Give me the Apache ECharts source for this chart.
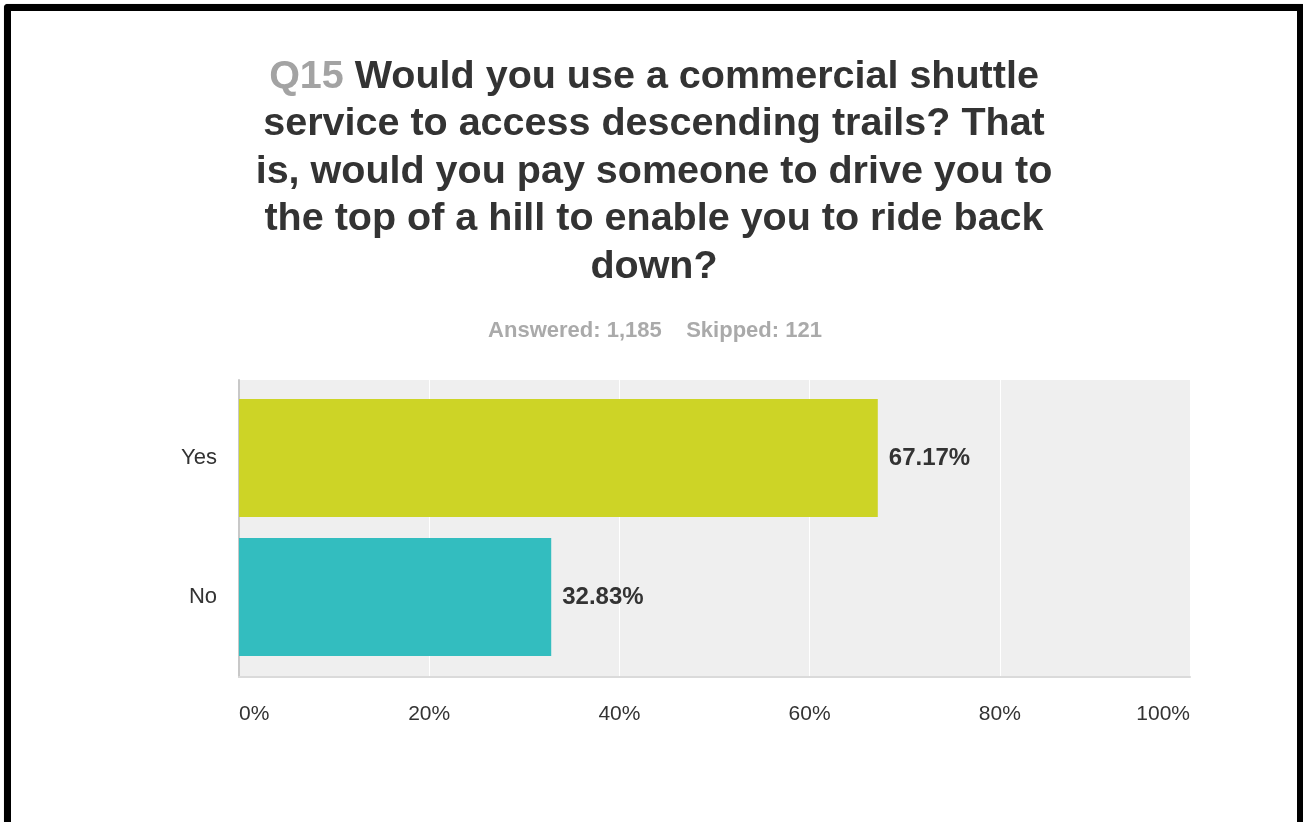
<!DOCTYPE html>
<html>
<head>
<meta charset="utf-8">
<script src="https://cdn.jsdelivr.net/npm/echarts@6/dist/echarts.min.js"></script>
<style>
  html, body { margin: 0; padding: 0; background: #ffffff; }
  #frame {
    position: absolute; left: 4px; top: 4px; width: 1286px; height: 830px;
    border: 7px solid #000; border-bottom: none; border-radius: 4px 2px 0 0;
    box-shadow: 0 0 1px #999;
  }
  #chart { position: absolute; left: 0; top: 0; width: 1303px; height: 822px; }
</style>
</head>
<body>
<div id="frame"></div>
<div id="chart"></div>
<script>
// Survey question and response counts
const questionId = 'Q15';
const titleLines = [
  'Would you use a commercial shuttle',
  'service to access descending trails? That',
  'is, would you pay someone to drive you to',
  'the top of a hill to enable you to ride back',
  'down?'
];
const answered = '1,185';
const skipped = '121';

// Answer choices and their share of responses (%)
const categories = ['Yes', 'No'];
const values = [67.17, 32.83];
const barColors = ['#cdd426', '#33bdbf'];

// Percentage axis ticks
const xTicks = [0, 20, 40, 60, 80, 100];

const FONT = 'Liberation Sans, Arial, sans-serif';

const titleText = titleLines
  .map((line, i) => (i === 0 ? '{q|' + questionId + '\u00a0}' : '') + '{t|' + line + '}')
  .join('\n');

const xMin = xTicks[0];
const xMax = xTicks[xTicks.length - 1];
const xStep = xTicks[1] - xTicks[0];

const chart = echarts.init(document.getElementById('chart'), null, { renderer: 'canvas' });

chart.setOption({
  backgroundColor: 'transparent',
  animation: false,
  title: [
    {
      text: titleText,
      left: 649,
      top: 48,
      textAlign: 'center',
      textStyle: {
        rich: {
          q: { fontFamily: FONT, fontSize: 39.5, fontWeight: 'bold', color: '#a3a3a3', lineHeight: 47.5 },
          t: { fontFamily: FONT, fontSize: 39.5, fontWeight: 'bold', color: '#333333', lineHeight: 47.5 }
        }
      }
    },
    {
      text: 'Answered: ' + answered + '    Skipped: ' + skipped,
      left: 650,
      top: 315,
      textAlign: 'center',
      textStyle: { fontFamily: FONT, fontSize: 22, fontWeight: 'bold', color: '#aaaaaa' }
    }
  ],
  grid: [
    // plot panel: background, vertical grid lines and percentage axis
    { left: 239, right: 113, top: 380, bottom: 145, show: true, backgroundColor: '#efefef', borderWidth: 0 },
    // inset band that holds the bars
    { left: 239, right: 113, top: 388.5, bottom: 155.5 }
  ],
  xAxis: [
    {
      gridIndex: 0,
      type: 'value',
      min: xMin,
      max: xMax,
      interval: xStep,
      axisLine: { show: true, lineStyle: { color: '#dadada', width: 2 } },
      axisTick: { show: false },
      splitLine: { show: true, lineStyle: { color: '#ffffff', width: 1 } },
      axisLabel: {
        formatter: v => v + '%',
        margin: 27,
        fontFamily: FONT,
        fontSize: 21,
        color: '#333333',
        alignMinLabel: 'left',
        alignMaxLabel: 'right'
      }
    },
    {
      gridIndex: 1,
      type: 'value',
      min: xMin,
      max: xMax,
      show: false
    }
  ],
  yAxis: [
    {
      gridIndex: 0,
      type: 'value',
      axisLine: { show: true, lineStyle: { color: '#c8c8c8', width: 2 } },
      axisTick: { show: false },
      axisLabel: { show: false },
      splitLine: { show: false }
    },
    {
      gridIndex: 1,
      type: 'category',
      data: categories,
      inverse: true,
      axisLine: { show: false },
      axisTick: { show: false },
      axisLabel: { margin: 22, fontFamily: FONT, fontSize: 22, color: '#333333' }
    }
  ],
  series: [
    {
      type: 'bar',
      xAxisIndex: 1,
      yAxisIndex: 1,
      data: values.map((v, i) => ({ value: v, itemStyle: { color: barColors[i] } })),
      barWidth: 118,
      label: {
        show: true,
        position: 'right',
        distance: 11,
        formatter: p => p.value.toFixed(2) + '%',
        fontFamily: FONT,
        fontSize: 24,
        fontWeight: 'bold',
        color: '#333333'
      }
    }
  ]
});
</script>
</body>
</html>
